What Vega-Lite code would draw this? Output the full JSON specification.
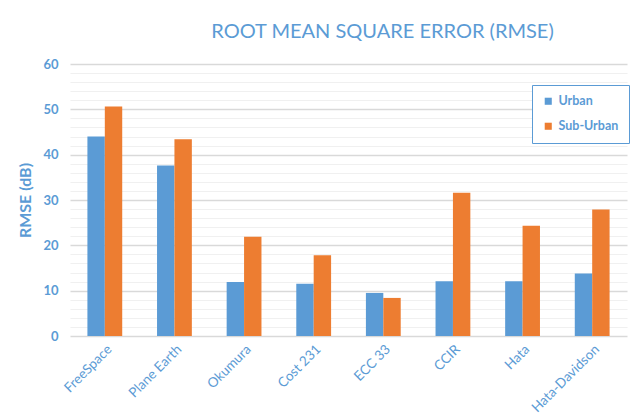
{
  "$schema": "https://vega.github.io/schema/vega-lite/v6.json",
  "width": 557,
  "height": 272,
  "autosize": {"type": "none"},
  "padding": {"left": 70, "top": 64, "right": 3, "bottom": 82},
  "background": "white",
  "title": {
    "text": "ROOT MEAN SQUARE ERROR (RMSE)",
    "anchor": "middle",
    "dx": 34,
    "offset": 16,
    "font": "Lato",
    "fontSize": 20,
    "fontWeight": "normal",
    "color": "#5B9BD5"
  },
  "data": {
    "values": [
      {"model": "FreeSpace", "area": "Urban", "rmse": 44.0},
      {"model": "FreeSpace", "area": "Sub-Urban", "rmse": 50.6},
      {"model": "Plane Earth", "area": "Urban", "rmse": 37.6},
      {"model": "Plane Earth", "area": "Sub-Urban", "rmse": 43.4},
      {"model": "Okumura", "area": "Urban", "rmse": 11.9},
      {"model": "Okumura", "area": "Sub-Urban", "rmse": 21.9},
      {"model": "Cost 231", "area": "Urban", "rmse": 11.5},
      {"model": "Cost 231", "area": "Sub-Urban", "rmse": 17.8},
      {"model": "ECC 33", "area": "Urban", "rmse": 9.5},
      {"model": "ECC 33", "area": "Sub-Urban", "rmse": 8.4},
      {"model": "CCIR", "area": "Urban", "rmse": 12.1},
      {"model": "CCIR", "area": "Sub-Urban", "rmse": 31.6},
      {"model": "Hata", "area": "Urban", "rmse": 12.1},
      {"model": "Hata", "area": "Sub-Urban", "rmse": 24.3},
      {"model": "Hata-Davidson", "area": "Urban", "rmse": 13.8},
      {"model": "Hata-Davidson", "area": "Sub-Urban", "rmse": 27.9}
    ]
  },
  "mark": {"type": "bar"},
  "encoding": {
    "x": {
      "field": "model",
      "type": "nominal",
      "sort": null,
      "scale": {"paddingInner": 0.5, "paddingOuter": 0.25},
      "axis": {
        "title": null,
        "labelAngle": -45,
        "labelFont": "Lato",
        "labelFontSize": 13.5,
        "labelColor": "#5B9BD5",
        "labelPadding": 6,
        "ticks": false,
        "domain": false
      }
    },
    "xOffset": {
      "field": "area",
      "type": "nominal",
      "sort": ["Urban", "Sub-Urban"],
      "scale": {"paddingInner": 0, "paddingOuter": 0}
    },
    "y": {
      "field": "rmse",
      "type": "quantitative",
      "scale": {"domain": [0, 60], "nice": false},
      "axis": {
        "title": "RMSE (dB)",
        "titleFont": "Lato",
        "titleFontSize": 16,
        "titleFontWeight": "bold",
        "titleColor": "#5B9BD5",
        "titlePadding": 9,
        "values": [0,2,4,6,8,10,12,14,16,18,20,22,24,26,28,30,32,34,36,38,40,42,44,46,48,50,52,54,56,58,60],
        "labelExpr": "datum.value % 10 === 0 ? datum.label : ''",
        "labelFont": "Lato",
        "labelFontSize": 13,
        "labelFontWeight": "bold",
        "labelColor": "#5B9BD5",
        "labelPadding": 12,
        "ticks": false,
        "domain": false,
        "grid": true,
        "gridColor": {"condition": {"test": "datum.value % 10 === 0", "value": "#d9d9d9"}, "value": "#f0f0f0"},
        "gridWidth": {"condition": {"test": "datum.value % 10 === 0", "value": 1.6}, "value": 1.2}
      }
    },
    "color": {
      "field": "area",
      "type": "nominal",
      "sort": ["Urban", "Sub-Urban"],
      "scale": {"domain": ["Urban", "Sub-Urban"], "range": ["#5B9BD5", "#ED7D31"]},
      "legend": {
        "title": null,
        "orient": "none",
        "legendX": 462,
        "legendY": 21,
        "direction": "vertical",
        "padding": 10,
        "rowPadding": 12,
        "strokeColor": "#5B9BD5",
        "fillColor": "white",
        "symbolType": "square",
        "symbolSize": 50,
        "symbolStrokeWidth": 0,
        "labelFont": "Lato",
        "labelFontSize": 12.5,
        "labelFontWeight": "bold",
        "labelColor": "#5B9BD5",
        "labelOffset": 4
      }
    }
  },
  "config": {
    "view": {"stroke": null}
  }
}
